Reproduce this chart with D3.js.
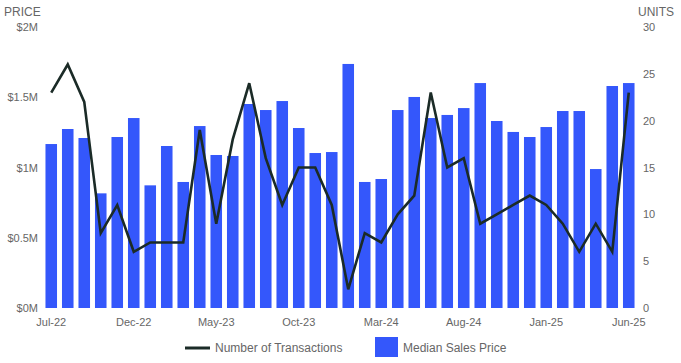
<!DOCTYPE html>
<html><head><meta charset="utf-8">
<script src="https://cdn.jsdelivr.net/npm/d3@7"></script>
<style>body{margin:0;background:#fff;}svg{display:block;font-family:"Liberation Sans",Arial,sans-serif;}</style>
</head><body>
<svg id="c" width="681" height="363"></svg>
<script>
const months = ["Jul-22","Aug-22","Sep-22","Oct-22","Nov-22","Dec-22","Jan-23","Feb-23","Mar-23","Apr-23","May-23","Jun-23","Jul-23","Aug-23","Sep-23","Oct-23","Nov-23","Dec-23","Jan-24","Feb-24","Mar-24","Apr-24","May-24","Jun-24","Jul-24","Aug-24","Sep-24","Oct-24","Nov-24","Dec-24","Jan-25","Feb-25","Mar-25","Apr-25","May-25","Jun-25"];
const medianPrice = [1167000,1274000,1210000,816000,1217000,1352000,873000,1153000,897000,1295000,1089000,1082000,1452000,1409000,1473000,1281000,1103000,1110000,1737000,897000,918000,1409000,1502000,1352000,1374000,1423000,1601000,1331000,1253000,1217000,1288000,1402000,1402000,989000,1580000,1601000];
const transactions = [23,26,22,8,11,6,7,7,7,19,9,18,24,16,11,15,15,11,2,8,7,10,12,23,15,16,9,10,11,12,11,9,6,9,6,23];
const tickMonths = ["Jul-22","Dec-22","May-23","Oct-23","Mar-24","Aug-24","Jan-25","Jun-25"];
const priceTicks = [0,500000,1000000,1500000,2000000];
const unitTicks = [0,5,10,15,20,25,30];

const svg = d3.select("#c");
const plotTop = 27, plotBottom = 308;
const x = d3.scaleBand().domain(months).range([43,637]).paddingInner(0.3).paddingOuter(0.15);
const yL = d3.scaleLinear().domain([0,2000000]).range([plotBottom, plotTop]);
const yR = d3.scaleLinear().domain([0,30]).range([plotBottom, plotTop]);
const grey = "#666";

svg.append("g").selectAll("rect").data(months).join("rect")
  .attr("x", d => x(d)).attr("width", x.bandwidth())
  .attr("y", (d,i) => yL(medianPrice[i])).attr("height", (d,i) => plotBottom - yL(medianPrice[i]))
  .attr("fill", "#3457fb");

const line = d3.line().x((d,i) => x(months[i]) + x.bandwidth()/2).y(d => yR(d));
svg.append("path").datum(transactions).attr("d", line)
  .attr("fill","none").attr("stroke","#1b2b27").attr("stroke-width",2.6).attr("stroke-linejoin","miter");

const fmt = v => "$" + (v/1e6) + "M";
const axL = svg.append("g").attr("transform","translate(40,0)")
  .call(d3.axisLeft(yL).tickValues(priceTicks).tickFormat(fmt).tickSize(0).tickPadding(2));
const axR = svg.append("g").attr("transform","translate(640,0)")
  .call(d3.axisRight(yR).tickValues(unitTicks).tickSize(0).tickPadding(3));
const axB = svg.append("g").attr("transform",`translate(0,${plotBottom+2})`)
  .call(d3.axisBottom(x).tickValues(tickMonths).tickSize(0).tickPadding(8));
[axL,axR,axB].forEach(a => {
  a.select(".domain").remove();
  a.selectAll("text").attr("fill",grey).style("font-size","11px").style("font-family","'Liberation Sans',Arial,sans-serif");
});

svg.append("text").attr("x",4).attr("y",16).text("PRICE").attr("fill",grey).style("font-size","12px");
svg.append("text").attr("x",638).attr("y",16).text("UNITS").attr("fill",grey).style("font-size","12px");

const lg = svg.append("g");
lg.append("line").attr("x1",185).attr("x2",210).attr("y1",348).attr("y2",348).attr("stroke","#1b2b27").attr("stroke-width",3);
lg.append("text").attr("x",215).attr("y",352).text("Number of Transactions").attr("fill",grey).style("font-size","12px");
lg.append("rect").attr("x",375).attr("y",337).attr("width",23).attr("height",20).attr("fill","#3457fb");
lg.append("text").attr("x",403).attr("y",352).text("Median Sales Price").attr("fill",grey).style("font-size","12px");
</script>
</body></html>
